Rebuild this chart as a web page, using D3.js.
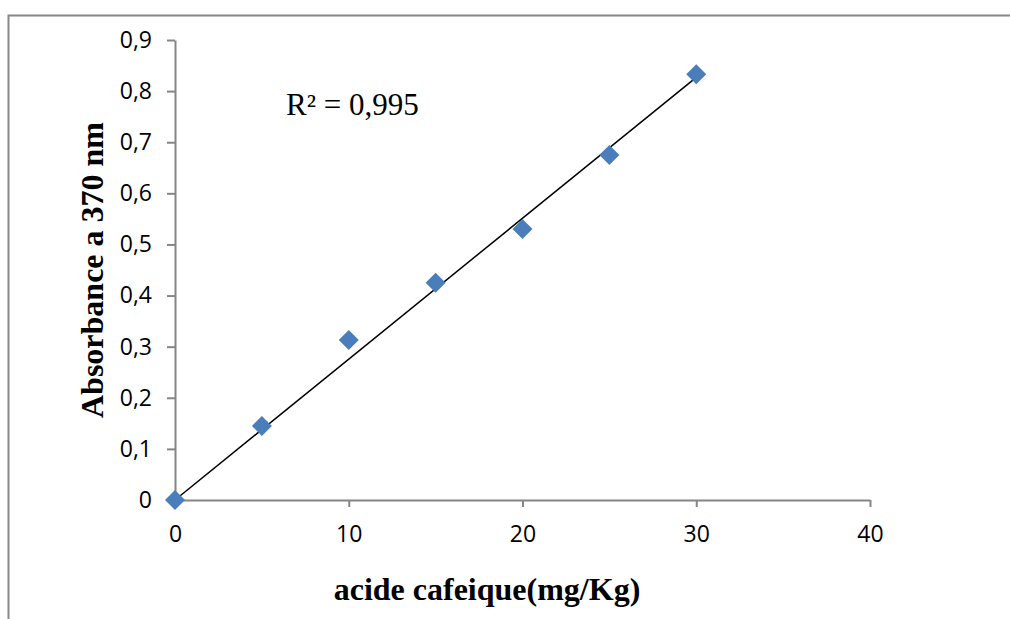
<!DOCTYPE html>
<html><head><meta charset="utf-8">
<script src="https://cdn.jsdelivr.net/npm/d3@7"></script>
<style>body{margin:0;background:#fff}svg{display:block}</style>
</head><body>
<script>
const concentrations = [0, 5, 10, 15, 20, 25, 30];
const absorbance = [0, 0.145, 0.313, 0.425, 0.530, 0.675, 0.833];
const xTicks = [0, 10, 20, 30, 40];
const yTicks = [0, 0.1, 0.2, 0.3, 0.4, 0.5, 0.6, 0.7, 0.8, 0.9];
const r2Label = "R² = 0,995";
const xTitle = "acide cafeique(mg/Kg)";
const yTitle = "Absorbance a 370 nm";

const W = 1010, H = 619;
const svg = d3.select("body").append("svg").attr("width", W).attr("height", H);

// outer frame
svg.append("path").attr("d", "M8.5,619 V15.5 H1010").attr("fill","none").attr("stroke","#888").attr("stroke-width",2);

const x = d3.scaleLinear().domain([0, 40]).range([175, 870]);
const y = d3.scaleLinear().domain([0, 0.9]).range([500, 40]);
const fmt = d => d3.format(".1f")(d).replace(".", ",");
const axisColor = "#868686";

const xa = svg.append("g").attr("transform", "translate(0,500)")
  .call(d3.axisBottom(x).tickValues(xTicks).tickSize(7).tickSizeOuter(0).tickPadding(19).tickFormat(d => d));
const ya = svg.append("g").attr("transform", "translate(175,0)")
  .call(d3.axisLeft(y).tickValues(yTicks).tickSize(8).tickSizeOuter(0).tickPadding(15).tickFormat(d => d === 0 ? "0" : fmt(d)));
[xa, ya].forEach(g => {
  g.select(".domain").attr("stroke", axisColor).attr("stroke-width", 2);
  g.selectAll(".tick line").attr("stroke", axisColor).attr("stroke-width", 2);
  g.selectAll(".tick text").attr("fill", "#000").style("font-family", "'Open Sans', sans-serif").style("font-size", "23px");
});

// trendline through origin (least squares)
const sxy = d3.sum(concentrations, (c, i) => c * absorbance[i]);
const sxx = d3.sum(concentrations, c => c * c);
const slope = sxy / sxx;
const xmax = d3.max(concentrations);
svg.append("line")
  .attr("x1", x(0)).attr("y1", y(0))
  .attr("x2", x(xmax)).attr("y2", y(slope * xmax))
  .attr("stroke", "#000").attr("stroke-width", 1.5);

// markers
const sym = d3.symbol().type(d3.symbolSquare).size(200);
svg.append("g").selectAll("path").data(concentrations).join("path")
  .attr("d", sym)
  .attr("transform", (d, i) => `translate(${x(d)},${y(absorbance[i])}) rotate(45)`)
  .attr("fill", "#4A7EBB");

// R² label
svg.append("text").attr("x", 286).attr("y", 115).text(r2Label)
  .style("font-family", "'Liberation Serif', serif").style("font-size", "31px");

// axis titles
svg.append("text").attr("x", 487).attr("y", 600).attr("text-anchor", "middle").text(xTitle)
  .style("font-family", "'Liberation Serif', serif").style("font-weight", "bold").style("font-size", "32px");
svg.append("text").attr("transform", "translate(103,270) rotate(-90)").attr("text-anchor", "middle").text(yTitle)
  .style("font-family", "'Liberation Serif', serif").style("font-weight", "bold").style("font-size", "32px");
</script>
</body></html>
